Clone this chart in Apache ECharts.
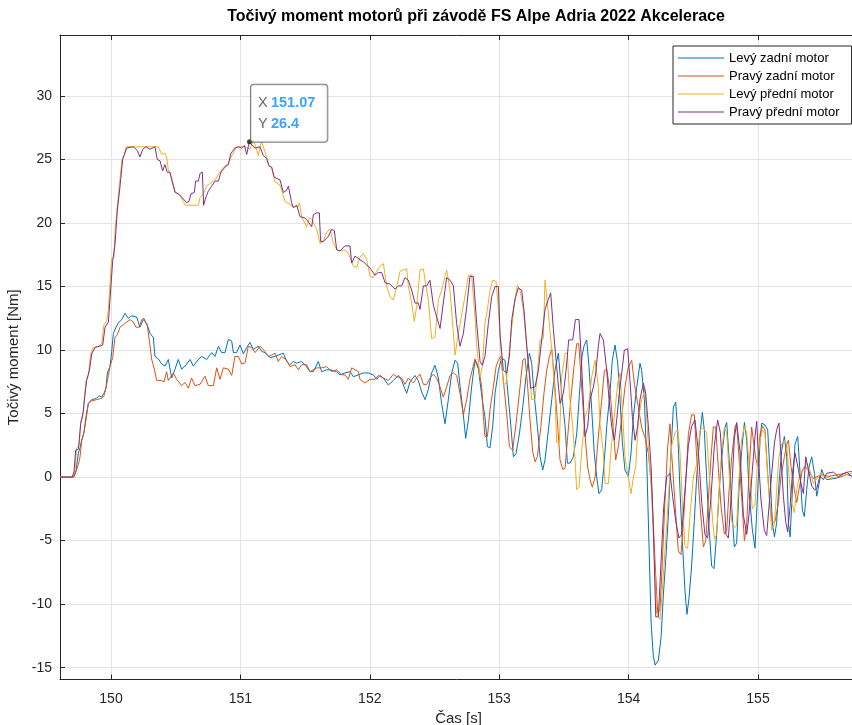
<!DOCTYPE html>
<html>
<head>
<meta charset="utf-8">
<script src="https://cdn.jsdelivr.net/npm/echarts@6/dist/echarts.min.js"></script>
<style>
html,body{margin:0;padding:0;background:#fff;}
#chart{width:852px;height:725px;}
</style>
</head>
<body>
<div id="chart"></div>
<script>
// ---- Data (time [s], torque [Nm]) ----
const seriesNames = ['Levý zadní motor', 'Pravý zadní motor', 'Levý přední motor', 'Pravý přední motor'];
const xTicks = [150, 151, 152, 153, 154, 155];
const yTicks = [-15, -10, -5, 0, 5, 10, 15, 20, 25, 30];
const tipX = 151.07;
const tipY = 26.4;

const lzT = [149.606,149.709,149.730,149.748,149.761,149.773,149.791,149.807,149.825,149.851,149.889,149.910,149.928,149.946,149.961,149.972,149.992,150.005,150.018,150.039,150.057,150.083,150.108,150.134,150.160,150.198,150.224,150.250,150.276,150.302,150.327,150.340,150.366,150.392,150.417,150.443,150.469,150.495,150.520,150.546,150.572,150.611,150.636,150.675,150.701,150.739,150.778,150.804,150.830,150.855,150.881,150.907,150.933,150.946,150.971,150.997,151.023,151.049,151.074,151.100,151.139,151.164,151.190,151.229,151.268,151.332,151.358,151.383,151.409,151.435,151.474,151.499,151.538,151.564,151.602,151.628,151.667,151.693,151.744,151.770,151.808,151.847,151.873,151.912,151.950,151.989,152.027,152.053,152.079,152.105,152.143,152.182,152.221,152.246,152.285,152.311,152.349,152.375,152.401,152.427,152.452,152.478,152.504,152.530,152.555,152.581,152.607,152.633,152.659,152.679,152.697,152.723,152.741,152.762,152.787,152.813,152.840,152.870,152.890,152.909,152.929,152.950,152.968,152.994,153.019,153.045,153.063,153.084,153.110,153.130,153.156,153.182,153.207,153.233,153.251,153.269,153.295,153.316,153.336,153.354,153.380,153.406,153.431,153.457,153.483,153.509,153.527,153.547,153.573,153.599,153.620,153.640,153.655,153.676,153.694,153.715,153.735,153.753,153.771,153.792,153.813,153.831,153.856,153.874,153.895,153.916,153.934,153.952,153.972,153.998,154.019,154.037,154.063,154.088,154.101,154.122,154.140,154.158,154.174,154.191,154.205,154.230,154.251,154.269,154.287,154.307,154.328,154.346,154.364,154.379,154.397,154.415,154.436,154.451,154.467,154.487,154.508,154.526,154.552,154.570,154.585,154.603,154.621,154.642,154.660,154.681,154.699,154.719,154.745,154.758,154.776,154.797,154.817,154.835,154.853,154.874,154.895,154.913,154.930,154.956,154.977,154.998,155.016,155.029,155.054,155.075,155.093,155.111,155.127,155.144,155.162,155.183,155.204,155.222,155.235,155.248,155.266,155.286,155.307,155.325,155.343,155.358,155.376,155.394,155.415,155.436,155.454,155.472,155.492,155.513,155.531,155.595,155.647,155.685,155.724,155.765];
const lzV = [0,0,0.5,1.9,2.3,2.9,3.5,4.75,5.8,6.1,6.2,6.4,6.3,6.6,7.0,8.2,8.7,9.8,11.3,11.8,12.15,12.4,12.9,12.5,12.7,12.6,11.8,12.4,12.1,11.3,11.0,9.5,9.3,8.9,8.74,9.26,7.8,8.5,9.26,8.5,8.74,9.26,8.74,9.26,9.5,9.26,9.8,9.5,10.3,9.8,9.8,10.85,10.7,9.8,9.8,10.4,9.7,10.2,10.6,10.05,10.3,9.9,9.8,9.4,9.5,9.76,9.1,8.85,9.1,8.97,9.1,8.85,8.3,8.3,9.1,8.3,8.45,8.45,8.3,8.05,8.2,8.3,7.9,8.05,8.2,8.2,8.05,7.7,8.0,7.8,7.25,7.6,8.0,7.6,6.6,7.5,8.0,7.6,6.7,6.1,6.9,8.2,8.8,7.8,5.8,4.2,6.1,8.2,9.2,8.97,7.2,4.9,3.05,4.5,7.1,9.2,8.5,6.0,4.75,2.4,2.3,4.0,6.6,8.4,9.35,9.2,7.1,4.75,1.6,1.85,3.4,5.5,7.9,9.75,8.95,6.6,4.0,1.6,0.56,1.35,3.7,6.1,8.4,9.75,6.6,4.0,1.1,1.1,1.6,3.4,6.5,9.5,10.3,10.8,8.7,5.3,1.85,0.04,-1.3,-1.0,1.35,4.0,6.6,9.2,10.4,8.97,6.1,2.7,0.56,0.04,1.9,4.75,7.1,8.96,8.4,6.1,1.35,-5.5,-11.5,-14.1,-14.8,-14.4,-12.6,-9.2,-6.5,-3.1,2.1,5.5,5.9,3.7,-1.0,-5.0,-9.0,-10.8,-9.5,-7.0,-3.4,0.0,3.4,5.1,3.7,0.0,-3.9,-7.0,-7.2,-4.4,-1.2,1.5,3.9,4.3,1.5,-2.4,-5.5,-5.2,-1.0,2.1,4.3,2.9,-1.0,-4.1,-5.6,-1.0,2.9,4.25,4.1,3.7,0.3,-3.6,-4.7,-3.6,-0.5,2.1,3.2,1.6,-3.6,-4.7,-1.0,2.6,3.2,0.3,-2.6,-3.1,-1.0,0.8,1.6,0.3,-1.5,-0.5,0.6,0.05,-0.2,-0.1,0.05,0.2,0.1,0.0];

const pzT = [149.606,149.714,149.735,149.748,149.761,149.773,149.791,149.807,149.825,149.851,149.889,149.928,149.946,149.961,149.980,149.992,150.013,150.031,150.049,150.070,150.096,150.121,150.147,150.173,150.193,150.219,150.237,150.255,150.281,150.296,150.314,150.335,150.353,150.392,150.410,150.430,150.443,150.456,150.482,150.507,150.546,150.572,150.598,150.623,150.649,150.688,150.726,150.752,150.791,150.817,150.842,150.868,150.907,150.933,150.958,150.984,151.010,151.036,151.061,151.087,151.113,151.152,151.190,151.216,151.242,151.268,151.293,151.319,151.358,151.383,151.422,151.448,151.474,151.512,151.538,151.590,151.628,151.667,151.705,151.744,151.783,151.808,151.834,151.860,151.886,151.912,151.924,151.963,152.002,152.040,152.066,152.105,152.143,152.182,152.208,152.246,152.272,152.298,152.337,152.362,152.388,152.414,152.440,152.465,152.491,152.517,152.543,152.568,152.594,152.620,152.646,152.671,152.697,152.723,152.749,152.774,152.813,152.839,152.865,152.878,152.890,152.909,152.929,152.955,152.976,152.994,153.012,153.032,153.058,153.079,153.104,153.130,153.156,153.182,153.200,153.218,153.238,153.259,153.277,153.295,153.321,153.346,153.367,153.388,153.406,153.424,153.449,153.470,153.491,153.509,153.527,153.553,153.578,153.599,153.615,153.632,153.658,153.684,153.702,153.720,153.741,153.761,153.787,153.813,153.831,153.856,153.882,153.900,153.921,153.947,153.972,153.998,154.024,154.045,154.075,154.101,154.127,154.153,154.178,154.204,154.225,154.243,154.261,154.281,154.302,154.320,154.333,154.359,154.384,154.405,154.423,154.441,154.462,154.487,154.508,154.526,154.552,154.578,154.596,154.616,154.637,154.655,154.673,154.693,154.714,154.740,154.758,154.776,154.797,154.822,154.835,154.853,154.874,154.895,154.913,154.930,154.951,154.964,154.982,154.998,155.016,155.034,155.054,155.075,155.093,155.111,155.131,155.157,155.178,155.204,155.222,155.235,155.255,155.281,155.299,155.325,155.343,155.363,155.384,155.402,155.428,155.492,155.544,155.621,155.673,155.711,155.724,155.765];
const pzV = [0,0,0.6,1.0,1.6,2.8,3.5,4.5,5.8,6.0,6.1,6.2,6.4,7.0,8.0,8.7,9.4,11.0,11.2,11.8,12.0,12.2,12.4,12.2,11.8,11.8,12.4,12.5,11.9,10.8,9.3,8.5,7.6,7.6,7.5,8.3,7.6,7.6,8.2,7.7,7.2,7.45,7.0,7.8,7.2,7.3,7.95,7.2,7.2,8.6,7.7,8.6,8.5,8.0,9.5,9.5,8.9,9.0,10.3,10.2,9.8,10.3,9.9,9.5,9.6,9.76,9.1,9.5,9.2,8.7,8.85,8.45,8.85,8.85,8.3,8.6,8.6,8.7,8.3,8.45,8.05,8.05,7.7,8.6,8.45,8.3,7.7,7.4,7.7,7.7,8.0,7.8,7.6,8.1,7.9,7.8,7.3,7.8,7.4,7.8,8.1,7.3,7.3,7.8,8.1,7.8,7.1,6.3,7.1,8.0,8.2,8.0,6.6,4.9,6.1,7.7,9.3,8.7,7.1,4.75,3.2,3.2,5.3,7.1,8.7,9.2,9.5,7.6,5.0,2.4,2.1,4.2,6.6,9.2,9.35,7.4,4.5,2.0,1.2,1.6,3.9,6.6,8.4,9.5,10.1,8.1,4.5,1.35,0.6,0.7,2.9,6.1,8.7,10.5,10.5,7.9,4.0,0.8,-0.2,-0.8,0.0,2.6,5.5,8.4,8.5,6.8,3.7,1.35,2.4,4.75,7.1,8.7,9.2,7.3,5.5,3.9,3.1,1.85,-0.8,-6.6,-10.7,-10.4,-6.6,-1.8,2.4,4.2,1.8,-2.1,-5.8,-6.1,-3.7,-0.5,3.4,4.9,4.9,1.6,-2.3,-5.5,-5.0,-1.8,1.6,3.95,3.95,0.8,-2.3,-4.5,-4.2,-1.1,1.6,3.95,4.2,1.6,-1.6,-5.0,-3.7,0.3,3.95,3.95,1.5,0.85,3.4,4.0,3.7,0.3,-2.3,-3.6,-3.5,-2.1,0.05,1.6,2.6,2.9,0.85,-1.0,-2.0,-0.5,0.6,0.85,0.6,0.3,-0.1,0.2,0.05,0.2,0.3,0.45,0.3,0.3];

const lpT = [149.606,149.704,149.722,149.735,149.755,149.766,149.781,149.791,149.807,149.825,149.843,149.864,149.902,149.928,149.946,149.967,149.980,149.992,150.005,150.023,150.031,150.049,150.070,150.085,150.101,150.116,150.366,150.392,150.417,150.430,150.443,150.469,150.495,150.533,150.559,150.572,150.675,150.688,150.714,150.739,150.778,150.804,150.842,150.881,150.907,150.933,150.971,151.036,151.074,151.100,151.118,151.139,151.152,151.164,151.190,151.216,151.242,151.268,151.306,151.345,151.409,151.448,151.456,151.474,151.512,151.533,151.551,151.590,151.615,151.641,151.667,151.693,151.718,151.744,151.783,151.808,151.834,151.873,151.899,151.924,151.950,151.976,152.002,152.027,152.053,152.079,152.105,152.131,152.156,152.182,152.208,152.234,152.259,152.285,152.298,152.324,152.344,152.362,152.388,152.414,152.427,152.452,152.478,152.504,152.530,152.555,152.581,152.594,152.620,152.659,152.684,152.715,152.741,152.762,152.787,152.813,152.826,152.852,152.870,152.890,152.909,152.929,152.950,152.976,152.994,153.012,153.032,153.053,153.071,153.097,153.122,153.140,153.161,153.187,153.212,153.238,153.251,153.277,153.303,153.316,153.341,153.354,153.367,153.380,153.406,153.431,153.444,153.465,153.483,153.509,153.527,153.542,153.568,153.586,153.599,153.617,153.638,153.663,153.689,153.715,153.741,153.766,153.779,153.805,153.818,153.844,153.869,153.895,153.916,153.934,153.952,153.972,153.998,154.019,154.037,154.055,154.075,154.101,154.127,154.153,154.178,154.199,154.217,154.243,154.261,154.281,154.307,154.333,154.359,154.379,154.397,154.415,154.436,154.456,154.475,154.500,154.526,154.552,154.578,154.603,154.621,154.642,154.663,154.681,154.699,154.719,154.740,154.758,154.776,154.797,154.817,154.835,154.853,154.874,154.895,154.913,154.938,154.956,154.977,154.998,155.016,155.034,155.054,155.075,155.093,155.106,155.127,155.144,155.162,155.183,155.204,155.222,155.240,155.260,155.281,155.299,155.325,155.351,155.376,155.402,155.428,155.479,155.557,155.647,155.724,155.765];
const lpV = [0,0,0.6,2.3,2.5,4.4,4.6,5.8,7.6,8.0,9.7,10.2,10.3,10.5,12.0,12.3,13.2,15.2,17.2,17.3,19.4,21.3,23.5,25.0,25.3,26.0,26.0,25.4,25.5,25.2,24.2,23.6,22.5,22.2,21.7,21.4,21.4,22.0,22.3,22.9,23.2,23.4,24.0,24.5,24.7,25.3,26.0,26.0,25.8,26.5,26.0,25.3,26.0,26.4,25.6,24.6,24.3,23.2,23.0,21.7,21.3,21.3,21.6,20.5,19.7,20.4,20.3,19.5,18.4,18.55,19.3,19.5,18.4,17.9,17.8,17.9,17.6,16.6,16.5,17.3,17.6,17.1,15.8,15.7,16.2,16.6,16.8,15.0,14.2,13.95,15.0,16.2,16.3,16.4,15.0,13.7,12.25,13.4,16.3,16.4,15.5,13.95,10.9,11.0,13.95,14.7,15.8,16.3,14.7,9.6,11.3,13.05,14.6,15.9,15.9,12.6,10.3,7.9,8.7,12.1,13.2,14.7,15.5,15.4,13.2,10.3,7.25,7.4,9.2,11.8,13.95,15.1,14.7,13.2,10.3,7.9,6.1,6.1,9.2,10.8,10.9,15.5,15.5,12.9,10.0,6.6,2.7,2.7,7.9,9.75,9.75,6.6,4.0,1.4,-1.0,-0.8,2.1,4.75,5.5,7.9,9.2,7.1,4.2,1.9,-0.5,-0.5,2.7,5.3,7.4,8.2,5.3,1.6,0.0,-1.3,0.0,0.8,4.5,6.1,6.9,2.4,-1.3,-6.5,-10.7,-11.2,-8.8,-5.9,-1.7,2.5,3.5,3.8,2.0,-2.0,-5.5,-5.6,-3.0,0.0,1.0,3.7,3.9,3.5,0.5,-2.5,-4.9,-4.5,-1.0,2.0,3.9,3.5,0.5,-3.5,-4.0,-3.8,0.0,3.0,4.0,3.5,0.0,-2.5,-2.2,1.6,2.9,3.7,3.4,0.0,-2.3,-4.2,-3.7,-1.0,1.6,2.6,2.9,2.6,0.0,-2.0,-2.8,-1.0,0.3,0.5,1.1,0.5,-0.5,0.2,-0.1,0.1,0.3,0.3];

const ppT = [149.606,149.700,149.714,149.727,149.748,149.766,149.786,149.799,149.812,149.833,149.851,149.876,149.910,149.936,149.954,149.980,149.998,150.013,150.031,150.049,150.070,150.090,150.121,150.173,150.204,150.224,150.245,150.271,150.302,150.340,150.358,150.379,150.399,150.417,150.435,150.456,150.469,150.495,150.520,150.559,150.585,150.603,150.618,150.644,150.654,150.675,150.688,150.706,150.716,150.732,150.752,150.778,150.804,150.830,150.850,150.881,150.907,150.927,150.958,150.984,151.010,151.031,151.049,151.061,151.070,151.092,151.113,151.152,151.177,151.203,151.221,151.242,151.262,151.306,151.332,151.358,151.371,151.396,151.409,151.435,151.461,151.499,151.525,151.551,151.564,151.590,151.610,151.620,151.641,151.680,151.705,151.726,151.744,151.770,151.808,151.847,151.860,151.886,151.924,151.950,151.976,152.002,152.040,152.066,152.092,152.118,152.156,152.195,152.221,152.246,152.272,152.298,152.324,152.349,152.375,152.388,152.414,152.440,152.465,152.491,152.517,152.543,152.568,152.594,152.620,152.646,152.671,152.697,152.723,152.749,152.774,152.800,152.826,152.852,152.870,152.890,152.916,152.942,152.968,152.994,153.006,153.032,153.058,153.079,153.097,153.122,153.148,153.174,153.192,153.218,153.243,153.277,153.303,153.328,153.354,153.380,153.398,153.419,153.444,153.470,153.496,153.517,153.537,153.568,153.589,153.617,153.632,153.650,153.663,153.684,153.702,153.728,153.746,153.766,153.779,153.805,153.831,153.849,153.869,153.890,153.908,153.926,153.947,153.967,153.993,154.011,154.029,154.050,154.070,154.088,154.114,154.132,154.153,154.174,154.191,154.210,154.230,154.251,154.271,154.294,154.320,154.340,154.365,154.389,154.410,154.436,154.462,154.487,154.513,154.539,154.565,154.590,154.611,154.637,154.663,154.688,154.709,154.732,154.753,154.771,154.797,154.817,154.835,154.861,154.887,154.913,154.930,154.956,154.977,154.990,155.003,155.023,155.049,155.067,155.085,155.106,155.127,155.144,155.162,155.178,155.196,155.214,155.229,155.248,155.266,155.286,155.312,155.332,155.351,155.369,155.389,155.415,155.436,155.454,155.479,155.505,155.531,155.582,155.621,155.685,155.724,155.765];
const ppV = [0,0,0.4,2.1,2.2,4.2,5.2,6.5,7.6,8.4,9.7,10.2,10.3,10.4,11.8,12.2,14.8,17.0,18.3,21.0,22.9,25.0,25.9,26.0,25.7,25.2,25.8,26.0,25.8,26.0,25.0,24.9,24.1,24.6,24.0,24.0,23.4,22.4,22.3,21.9,21.6,21.7,22.3,22.4,23.3,23.3,23.9,24.0,21.4,22.0,22.5,22.9,23.3,23.3,24.0,24.4,24.6,25.5,25.9,26.0,25.9,26.1,25.4,26.0,26.4,26.1,25.9,26.0,25.3,25.1,24.5,24.4,23.6,23.4,22.4,22.6,22.9,21.6,21.2,21.4,20.5,20.4,20.1,19.7,20.65,20.8,20.8,18.55,18.55,18.95,19.5,19.4,17.9,17.8,18.2,18.2,16.85,17.4,17.1,16.95,16.7,16.45,15.9,16.1,16.1,15.3,15.2,14.8,15.05,15.05,15.7,15.5,14.7,13.7,13.7,13.2,15.05,15.05,15.5,13.55,12.6,11.7,13.7,15.7,15.5,15.05,12.1,10.3,11.3,13.4,15.8,15.8,12.1,9.1,8.8,9.5,12.1,14.2,15.0,15.0,11.3,8.4,8.2,9.5,12.4,14.0,14.9,14.7,13.1,9.7,7.0,7.1,8.4,10.8,13.2,14.0,14.5,11.6,8.7,5.8,6.6,8.4,10.8,10.8,12.4,12.4,9.8,6.1,3.2,4.0,6.1,7.1,8.2,10.3,11.3,10.8,8.4,6.1,4.0,2.9,4.5,6.4,8.2,10.0,10.1,7.6,4.75,2.9,4.0,6.1,7.4,6.6,4.0,0.8,-3.9,-11.0,-11.0,-6.6,-2.4,0.0,0.3,-1.5,-3.5,-4.8,-4.5,-1.0,2.5,4.0,4.5,2.0,-2.0,-4.5,-4.8,-1.5,2.5,4.5,3.5,-0.5,-4.5,-4.8,-1.0,3.0,4.3,2.0,-3.0,-4.5,-3.0,0.5,3.2,4.4,1.6,-1.8,-4.2,-4.6,-2.3,0.3,2.7,3.7,4.25,1.6,-1.5,-3.5,-4.3,-2.3,0.3,1.9,0.6,-0.5,-1.3,1.6,0.6,-0.7,-1.0,-0.9,0.1,-0.2,0.3,0.4,0.05,0.4,0.05,0.05];

// ---- Chart ----
function pairs(t, v) { return t.map((x, i) => [x, v[i]]); }
const colors = ['#0072BD', '#D95319', '#EDB120', '#7E2F8E'];
const FONT = '"Liberation Sans", Arial, Helvetica, sans-serif';
const AX = '#262626';

const chart = echarts.init(document.getElementById('chart'), null, { renderer: 'canvas' });

const lineSeries = [[lzT, lzV], [pzT, pzV], [lpT, lpV], [ppT, ppV]].map((d, i) => ({
  name: seriesNames[i],
  type: 'line',
  data: pairs(d[0], d[1]),
  showSymbol: false,
  symbol: 'none',
  lineStyle: { width: 1, color: colors[i] },
  itemStyle: { color: colors[i] },
  animation: false,
  z: 3 + i
}));

const tipSeries = {
  type: 'scatter',
  data: [[tipX, tipY]],
  symbol: 'circle',
  symbolSize: 5,
  itemStyle: { color: '#1a1a1a' },
  z: 20,
  silent: true,
  label: {
    show: true,
    position: [4, 2.5],
    align: 'left',
    verticalAlign: 'bottom',
    backgroundColor: 'rgba(255,255,255,0.95)',
    borderColor: '#5a5a5a',
    borderWidth: 1,
    borderRadius: 3,
    padding: [8, 12, 7, 7],
    lineHeight: 21,
    formatter: () => '{k|X} {v|' + tipX.toFixed(2) + '}\n{k|Y} {v|' + tipY + '}',
    rich: {
      k: { fontFamily: FONT, fontSize: 14.5, color: '#404040', lineHeight: 21 },
      v: { fontFamily: FONT, fontSize: 14.5, fontWeight: 'bold', color: '#0a8cff', lineHeight: 21 }
    }
  }
};

const commonX = {
  type: 'value', min: 149.606, max: 155.765,
  splitLine: { show: true, lineStyle: { color: '#e3e3e3', width: 1 } },
  axisLine: { show: true, onZero: false, lineStyle: { color: AX, width: 1 } },
  axisTick: { show: true, inside: true, length: 5, lineStyle: { color: AX }, customValues: xTicks },
  axisLabel: { show: true, customValues: xTicks, color: AX, fontFamily: FONT, fontSize: 14, margin: 13,
               formatter: v => String(v) },
  minorTick: { show: false }
};
const commonY = {
  type: 'value', min: -15.93, max: 34.8,
  splitLine: { show: true, lineStyle: { color: '#e3e3e3', width: 1 } },
  axisLine: { show: true, onZero: false, lineStyle: { color: AX, width: 1 } },
  axisTick: { show: true, inside: true, length: 5, lineStyle: { color: AX }, customValues: yTicks },
  axisLabel: { show: true, customValues: yTicks, color: AX, fontFamily: FONT, fontSize: 14, margin: 8,
               formatter: v => String(v) }
};

const option = {
  backgroundColor: '#ffffff',
  animation: false,
  color: colors,
  grid: { left: 60, right: -5, top: 35, bottom: 45.5, show: false, outerBoundsMode: 'none', containLabel: false },
  graphic: [{
    type: 'text', x: 476, y: 9,
    style: { text: 'Točivý moment motorů při závodě FS Alpe Adria 2022 Akcelerace', fill: '#000',
             font: 'bold 16px ' + FONT, textAlign: 'center', textVerticalAlign: 'top' },
    z: 100
  }],
  legend: {
    show: true, orient: 'vertical', left: 673, top: 46,
    padding: [5, 12, 5, 5], itemGap: 4, itemWidth: 46, itemHeight: 1.2, icon: 'rect',
    backgroundColor: '#ffffff', borderColor: AX, borderWidth: 1, borderRadius: 0,
    textStyle: { fontFamily: FONT, fontSize: 13, color: '#000', lineHeight: 14 },
    data: seriesNames,
    selectedMode: false
  },
  xAxis: [
    Object.assign({}, commonX, { position: 'bottom', name: 'Čas [s]', nameLocation: 'middle', nameGap: 31,
      nameTextStyle: { fontFamily: FONT, fontSize: 15, color: AX } }),
    Object.assign({}, commonX, { position: 'top', splitLine: { show: false },
      axisLabel: { show: false } })
  ],
  yAxis: [
    Object.assign({}, commonY, { position: 'left', name: 'Točivý moment [Nm]', nameLocation: 'middle', nameGap: 30,
      nameRotate: 90, nameTextStyle: { fontFamily: FONT, fontSize: 15, color: AX } }),
    Object.assign({}, commonY, { position: 'right', splitLine: { show: false }, axisLabel: { show: false } })
  ],
  series: lineSeries.concat([tipSeries])
};

chart.setOption(option);
</script>
</body>
</html>
